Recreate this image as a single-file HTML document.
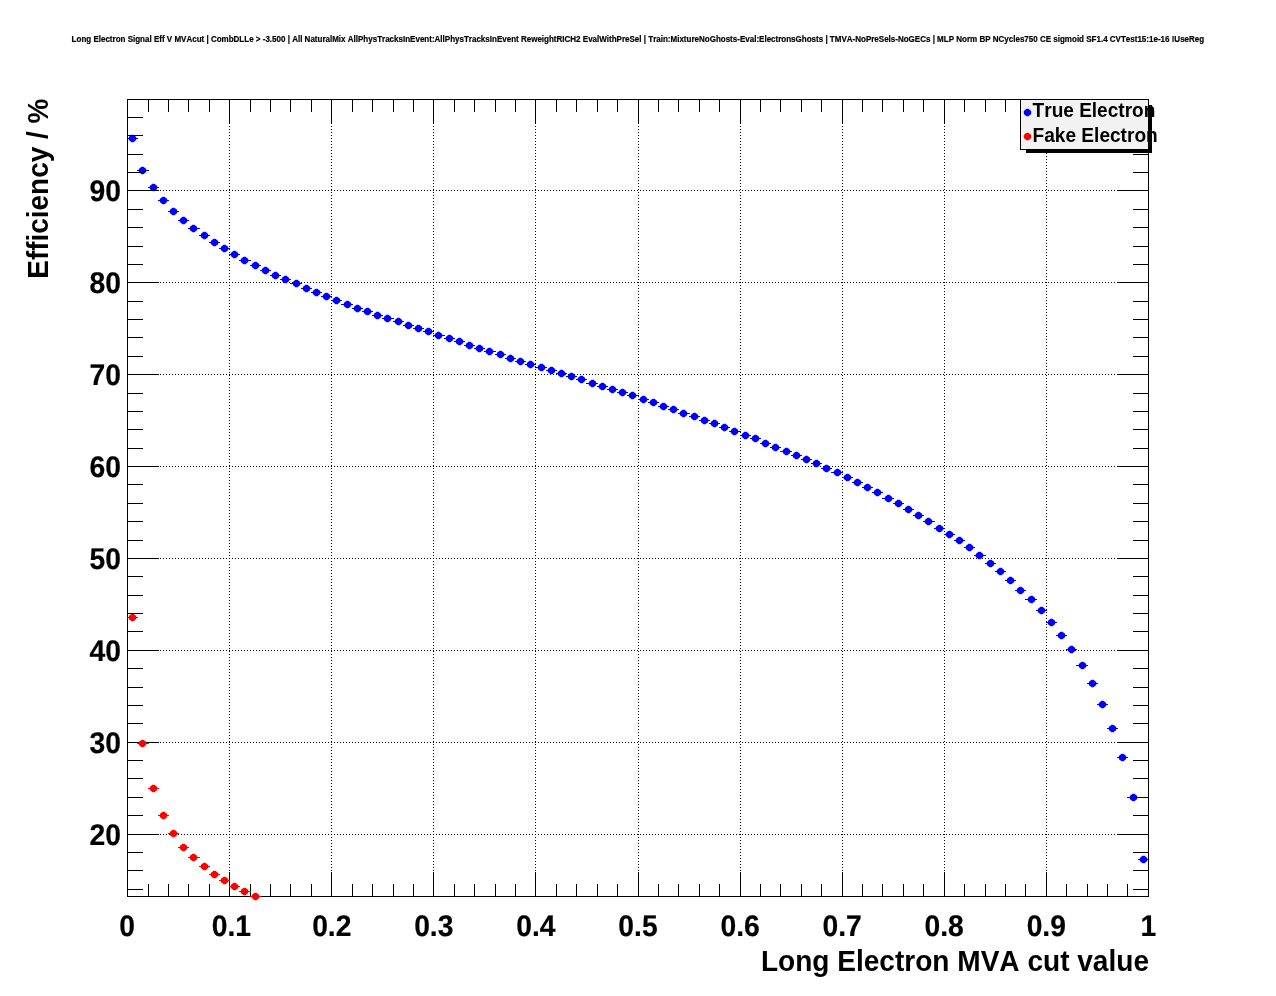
<!DOCTYPE html>
<html><head><meta charset="utf-8"><title>Long Electron Signal Eff V MVAcut</title>
<style>html,body{margin:0;padding:0;background:#fff}body{width:1276px;height:996px;position:relative;overflow:hidden}</style>
</head><body>
<svg width="1276" height="996" viewBox="0 0 1276 996" style="position:absolute;left:0;top:0">
<rect width="100%" height="100%" fill="#fff"/>
<g stroke="#000" stroke-width="1" stroke-dasharray="1 2" shape-rendering="crispEdges" fill="none">
<line x1="229.5" y1="99" x2="229.5" y2="897"/>
<line x1="331.5" y1="99" x2="331.5" y2="897"/>
<line x1="433.5" y1="99" x2="433.5" y2="897"/>
<line x1="535.5" y1="99" x2="535.5" y2="897"/>
<line x1="638.5" y1="99" x2="638.5" y2="897"/>
<line x1="740.5" y1="99" x2="740.5" y2="897"/>
<line x1="842.5" y1="99" x2="842.5" y2="897"/>
<line x1="944.5" y1="99" x2="944.5" y2="897"/>
<line x1="1046.5" y1="99" x2="1046.5" y2="897"/>
<line x1="127" y1="834.5" x2="1149" y2="834.5"/>
<line x1="127" y1="742.5" x2="1149" y2="742.5"/>
<line x1="127" y1="650.5" x2="1149" y2="650.5"/>
<line x1="127" y1="558.5" x2="1149" y2="558.5"/>
<line x1="127" y1="466.5" x2="1149" y2="466.5"/>
<line x1="127" y1="374.5" x2="1149" y2="374.5"/>
<line x1="127" y1="282.5" x2="1149" y2="282.5"/>
<line x1="127" y1="190.5" x2="1149" y2="190.5"/>
</g>
<g stroke="#0000ff" stroke-width="1" shape-rendering="crispEdges">
<line x1="127" y1="138.5" x2="138" y2="138.5"/>
<line x1="137" y1="170.5" x2="149" y2="170.5"/>
<line x1="148" y1="187.5" x2="159" y2="187.5"/>
<line x1="158" y1="200.5" x2="169" y2="200.5"/>
<line x1="168" y1="211.5" x2="179" y2="211.5"/>
<line x1="178" y1="220.5" x2="189" y2="220.5"/>
<line x1="188" y1="228.5" x2="200" y2="228.5"/>
<line x1="199" y1="235.5" x2="210" y2="235.5"/>
<line x1="209" y1="242.5" x2="220" y2="242.5"/>
<line x1="219" y1="248.5" x2="230" y2="248.5"/>
<line x1="229" y1="254.5" x2="240" y2="254.5"/>
<line x1="239" y1="260.5" x2="251" y2="260.5"/>
<line x1="250" y1="265.5" x2="261" y2="265.5"/>
<line x1="260" y1="270.5" x2="271" y2="270.5"/>
<line x1="270" y1="275.5" x2="281" y2="275.5"/>
<line x1="280" y1="279.5" x2="291" y2="279.5"/>
<line x1="290" y1="283.5" x2="302" y2="283.5"/>
<line x1="301" y1="288.5" x2="312" y2="288.5"/>
<line x1="311" y1="292.5" x2="322" y2="292.5"/>
<line x1="321" y1="296.5" x2="332" y2="296.5"/>
<line x1="331" y1="300.5" x2="342" y2="300.5"/>
<line x1="341" y1="304.5" x2="353" y2="304.5"/>
<line x1="352" y1="308.5" x2="363" y2="308.5"/>
<line x1="362" y1="311.5" x2="373" y2="311.5"/>
<line x1="372" y1="315.5" x2="383" y2="315.5"/>
<line x1="382" y1="318.5" x2="394" y2="318.5"/>
<line x1="393" y1="321.5" x2="404" y2="321.5"/>
<line x1="403" y1="325.5" x2="414" y2="325.5"/>
<line x1="413" y1="328.5" x2="424" y2="328.5"/>
<line x1="423" y1="331.5" x2="434" y2="331.5"/>
<line x1="433" y1="335.5" x2="445" y2="335.5"/>
<line x1="444" y1="338.5" x2="455" y2="338.5"/>
<line x1="454" y1="341.5" x2="465" y2="341.5"/>
<line x1="464" y1="345.5" x2="475" y2="345.5"/>
<line x1="474" y1="348.5" x2="485" y2="348.5"/>
<line x1="484" y1="351.5" x2="496" y2="351.5"/>
<line x1="495" y1="354.5" x2="506" y2="354.5"/>
<line x1="505" y1="358.5" x2="516" y2="358.5"/>
<line x1="515" y1="361.5" x2="526" y2="361.5"/>
<line x1="525" y1="364.5" x2="536" y2="364.5"/>
<line x1="535" y1="367.5" x2="547" y2="367.5"/>
<line x1="546" y1="370.5" x2="557" y2="370.5"/>
<line x1="556" y1="373.5" x2="567" y2="373.5"/>
<line x1="566" y1="376.5" x2="577" y2="376.5"/>
<line x1="576" y1="379.5" x2="587" y2="379.5"/>
<line x1="586" y1="383.5" x2="598" y2="383.5"/>
<line x1="597" y1="386.5" x2="608" y2="386.5"/>
<line x1="607" y1="389.5" x2="618" y2="389.5"/>
<line x1="617" y1="392.5" x2="628" y2="392.5"/>
<line x1="627" y1="395.5" x2="639" y2="395.5"/>
<line x1="638" y1="399.5" x2="649" y2="399.5"/>
<line x1="648" y1="402.5" x2="659" y2="402.5"/>
<line x1="658" y1="406.5" x2="669" y2="406.5"/>
<line x1="668" y1="409.5" x2="679" y2="409.5"/>
<line x1="678" y1="413.5" x2="690" y2="413.5"/>
<line x1="689" y1="416.5" x2="700" y2="416.5"/>
<line x1="699" y1="420.5" x2="710" y2="420.5"/>
<line x1="709" y1="423.5" x2="720" y2="423.5"/>
<line x1="719" y1="427.5" x2="730" y2="427.5"/>
<line x1="729" y1="431.5" x2="741" y2="431.5"/>
<line x1="740" y1="435.5" x2="751" y2="435.5"/>
<line x1="750" y1="438.5" x2="761" y2="438.5"/>
<line x1="760" y1="443.5" x2="771" y2="443.5"/>
<line x1="770" y1="447.5" x2="781" y2="447.5"/>
<line x1="780" y1="451.5" x2="792" y2="451.5"/>
<line x1="791" y1="455.5" x2="802" y2="455.5"/>
<line x1="801" y1="459.5" x2="812" y2="459.5"/>
<line x1="811" y1="463.5" x2="822" y2="463.5"/>
<line x1="821" y1="468.5" x2="832" y2="468.5"/>
<line x1="831" y1="472.5" x2="843" y2="472.5"/>
<line x1="842" y1="477.5" x2="853" y2="477.5"/>
<line x1="852" y1="482.5" x2="863" y2="482.5"/>
<line x1="862" y1="487.5" x2="873" y2="487.5"/>
<line x1="872" y1="492.5" x2="883" y2="492.5"/>
<line x1="882" y1="498.5" x2="894" y2="498.5"/>
<line x1="893" y1="503.5" x2="904" y2="503.5"/>
<line x1="903" y1="509.5" x2="914" y2="509.5"/>
<line x1="913" y1="515.5" x2="924" y2="515.5"/>
<line x1="923" y1="521.5" x2="935" y2="521.5"/>
<line x1="934" y1="528.5" x2="945" y2="528.5"/>
<line x1="944" y1="534.5" x2="955" y2="534.5"/>
<line x1="954" y1="540.5" x2="965" y2="540.5"/>
<line x1="964" y1="547.5" x2="975" y2="547.5"/>
<line x1="974" y1="555.5" x2="986" y2="555.5"/>
<line x1="985" y1="563.5" x2="996" y2="563.5"/>
<line x1="995" y1="571.5" x2="1006" y2="571.5"/>
<line x1="1005" y1="580.5" x2="1016" y2="580.5"/>
<line x1="1015" y1="590.5" x2="1026" y2="590.5"/>
<line x1="1025" y1="599.5" x2="1037" y2="599.5"/>
<line x1="1036" y1="610.5" x2="1047" y2="610.5"/>
<line x1="1046" y1="622.5" x2="1057" y2="622.5"/>
<line x1="1056" y1="635.5" x2="1067" y2="635.5"/>
<line x1="1066" y1="649.5" x2="1077" y2="649.5"/>
<line x1="1076" y1="665.5" x2="1088" y2="665.5"/>
<line x1="1087" y1="683.5" x2="1098" y2="683.5"/>
<line x1="1097" y1="704.5" x2="1108" y2="704.5"/>
<line x1="1107" y1="728.5" x2="1118" y2="728.5"/>
<line x1="1117" y1="757.5" x2="1128" y2="757.5"/>
<line x1="1127" y1="797.5" x2="1139" y2="797.5"/>
<line x1="1138" y1="859.5" x2="1149" y2="859.5"/>
</g>
<g fill="#0000ff">
<polygon points="128.8,136.9 131.5,134.8 133.5,134.8 136.2,136.9 136.2,140.1 133.5,142.2 131.5,142.2 128.8,140.1"/>
<polygon points="138.8,168.9 141.5,166.8 143.5,166.8 146.2,168.9 146.2,172.1 143.5,174.2 141.5,174.2 138.8,172.1"/>
<polygon points="149.8,185.9 152.5,183.8 154.5,183.8 157.2,185.9 157.2,189.1 154.5,191.2 152.5,191.2 149.8,189.1"/>
<polygon points="159.8,198.9 162.5,196.8 164.5,196.8 167.2,198.9 167.2,202.1 164.5,204.2 162.5,204.2 159.8,202.1"/>
<polygon points="169.8,209.9 172.5,207.8 174.5,207.8 177.2,209.9 177.2,213.1 174.5,215.2 172.5,215.2 169.8,213.1"/>
<polygon points="179.8,218.9 182.5,216.8 184.5,216.8 187.2,218.9 187.2,222.1 184.5,224.2 182.5,224.2 179.8,222.1"/>
<polygon points="189.8,226.9 192.5,224.8 194.5,224.8 197.2,226.9 197.2,230.1 194.5,232.2 192.5,232.2 189.8,230.1"/>
<polygon points="200.8,233.9 203.5,231.8 205.5,231.8 208.2,233.9 208.2,237.1 205.5,239.2 203.5,239.2 200.8,237.1"/>
<polygon points="210.8,240.9 213.5,238.8 215.5,238.8 218.2,240.9 218.2,244.1 215.5,246.2 213.5,246.2 210.8,244.1"/>
<polygon points="220.8,246.9 223.5,244.8 225.5,244.8 228.2,246.9 228.2,250.1 225.5,252.2 223.5,252.2 220.8,250.1"/>
<polygon points="230.8,252.9 233.5,250.8 235.5,250.8 238.2,252.9 238.2,256.1 235.5,258.2 233.5,258.2 230.8,256.1"/>
<polygon points="240.8,258.9 243.5,256.8 245.5,256.8 248.2,258.9 248.2,262.1 245.5,264.2 243.5,264.2 240.8,262.1"/>
<polygon points="251.8,263.9 254.5,261.8 256.5,261.8 259.2,263.9 259.2,267.1 256.5,269.2 254.5,269.2 251.8,267.1"/>
<polygon points="261.8,268.9 264.5,266.8 266.5,266.8 269.2,268.9 269.2,272.1 266.5,274.2 264.5,274.2 261.8,272.1"/>
<polygon points="271.8,273.9 274.5,271.8 276.5,271.8 279.2,273.9 279.2,277.1 276.5,279.2 274.5,279.2 271.8,277.1"/>
<polygon points="281.8,277.9 284.5,275.8 286.5,275.8 289.2,277.9 289.2,281.1 286.5,283.2 284.5,283.2 281.8,281.1"/>
<polygon points="292.8,281.9 295.5,279.8 297.5,279.8 300.2,281.9 300.2,285.1 297.5,287.2 295.5,287.2 292.8,285.1"/>
<polygon points="302.8,286.9 305.5,284.8 307.5,284.8 310.2,286.9 310.2,290.1 307.5,292.2 305.5,292.2 302.8,290.1"/>
<polygon points="312.8,290.9 315.5,288.8 317.5,288.8 320.2,290.9 320.2,294.1 317.5,296.2 315.5,296.2 312.8,294.1"/>
<polygon points="322.8,294.9 325.5,292.8 327.5,292.8 330.2,294.9 330.2,298.1 327.5,300.2 325.5,300.2 322.8,298.1"/>
<polygon points="332.8,298.9 335.5,296.8 337.5,296.8 340.2,298.9 340.2,302.1 337.5,304.2 335.5,304.2 332.8,302.1"/>
<polygon points="343.8,302.9 346.5,300.8 348.5,300.8 351.2,302.9 351.2,306.1 348.5,308.2 346.5,308.2 343.8,306.1"/>
<polygon points="353.8,306.9 356.5,304.8 358.5,304.8 361.2,306.9 361.2,310.1 358.5,312.2 356.5,312.2 353.8,310.1"/>
<polygon points="363.8,309.9 366.5,307.8 368.5,307.8 371.2,309.9 371.2,313.1 368.5,315.2 366.5,315.2 363.8,313.1"/>
<polygon points="373.8,313.9 376.5,311.8 378.5,311.8 381.2,313.9 381.2,317.1 378.5,319.2 376.5,319.2 373.8,317.1"/>
<polygon points="383.8,316.9 386.5,314.8 388.5,314.8 391.2,316.9 391.2,320.1 388.5,322.2 386.5,322.2 383.8,320.1"/>
<polygon points="394.8,319.9 397.5,317.8 399.5,317.8 402.2,319.9 402.2,323.1 399.5,325.2 397.5,325.2 394.8,323.1"/>
<polygon points="404.8,323.9 407.5,321.8 409.5,321.8 412.2,323.9 412.2,327.1 409.5,329.2 407.5,329.2 404.8,327.1"/>
<polygon points="414.8,326.9 417.5,324.8 419.5,324.8 422.2,326.9 422.2,330.1 419.5,332.2 417.5,332.2 414.8,330.1"/>
<polygon points="424.8,329.9 427.5,327.8 429.5,327.8 432.2,329.9 432.2,333.1 429.5,335.2 427.5,335.2 424.8,333.1"/>
<polygon points="434.8,333.9 437.5,331.8 439.5,331.8 442.2,333.9 442.2,337.1 439.5,339.2 437.5,339.2 434.8,337.1"/>
<polygon points="445.8,336.9 448.5,334.8 450.5,334.8 453.2,336.9 453.2,340.1 450.5,342.2 448.5,342.2 445.8,340.1"/>
<polygon points="455.8,339.9 458.5,337.8 460.5,337.8 463.2,339.9 463.2,343.1 460.5,345.2 458.5,345.2 455.8,343.1"/>
<polygon points="465.8,343.9 468.5,341.8 470.5,341.8 473.2,343.9 473.2,347.1 470.5,349.2 468.5,349.2 465.8,347.1"/>
<polygon points="475.8,346.9 478.5,344.8 480.5,344.8 483.2,346.9 483.2,350.1 480.5,352.2 478.5,352.2 475.8,350.1"/>
<polygon points="485.8,349.9 488.5,347.8 490.5,347.8 493.2,349.9 493.2,353.1 490.5,355.2 488.5,355.2 485.8,353.1"/>
<polygon points="496.8,352.9 499.5,350.8 501.5,350.8 504.2,352.9 504.2,356.1 501.5,358.2 499.5,358.2 496.8,356.1"/>
<polygon points="506.8,356.9 509.5,354.8 511.5,354.8 514.2,356.9 514.2,360.1 511.5,362.2 509.5,362.2 506.8,360.1"/>
<polygon points="516.8,359.9 519.5,357.8 521.5,357.8 524.2,359.9 524.2,363.1 521.5,365.2 519.5,365.2 516.8,363.1"/>
<polygon points="526.8,362.9 529.5,360.8 531.5,360.8 534.2,362.9 534.2,366.1 531.5,368.2 529.5,368.2 526.8,366.1"/>
<polygon points="537.8,365.9 540.5,363.8 542.5,363.8 545.2,365.9 545.2,369.1 542.5,371.2 540.5,371.2 537.8,369.1"/>
<polygon points="547.8,368.9 550.5,366.8 552.5,366.8 555.2,368.9 555.2,372.1 552.5,374.2 550.5,374.2 547.8,372.1"/>
<polygon points="557.8,371.9 560.5,369.8 562.5,369.8 565.2,371.9 565.2,375.1 562.5,377.2 560.5,377.2 557.8,375.1"/>
<polygon points="567.8,374.9 570.5,372.8 572.5,372.8 575.2,374.9 575.2,378.1 572.5,380.2 570.5,380.2 567.8,378.1"/>
<polygon points="577.8,377.9 580.5,375.8 582.5,375.8 585.2,377.9 585.2,381.1 582.5,383.2 580.5,383.2 577.8,381.1"/>
<polygon points="588.8,381.9 591.5,379.8 593.5,379.8 596.2,381.9 596.2,385.1 593.5,387.2 591.5,387.2 588.8,385.1"/>
<polygon points="598.8,384.9 601.5,382.8 603.5,382.8 606.2,384.9 606.2,388.1 603.5,390.2 601.5,390.2 598.8,388.1"/>
<polygon points="608.8,387.9 611.5,385.8 613.5,385.8 616.2,387.9 616.2,391.1 613.5,393.2 611.5,393.2 608.8,391.1"/>
<polygon points="618.8,390.9 621.5,388.8 623.5,388.8 626.2,390.9 626.2,394.1 623.5,396.2 621.5,396.2 618.8,394.1"/>
<polygon points="628.8,393.9 631.5,391.8 633.5,391.8 636.2,393.9 636.2,397.1 633.5,399.2 631.5,399.2 628.8,397.1"/>
<polygon points="639.8,397.9 642.5,395.8 644.5,395.8 647.2,397.9 647.2,401.1 644.5,403.2 642.5,403.2 639.8,401.1"/>
<polygon points="649.8,400.9 652.5,398.8 654.5,398.8 657.2,400.9 657.2,404.1 654.5,406.2 652.5,406.2 649.8,404.1"/>
<polygon points="659.8,404.9 662.5,402.8 664.5,402.8 667.2,404.9 667.2,408.1 664.5,410.2 662.5,410.2 659.8,408.1"/>
<polygon points="669.8,407.9 672.5,405.8 674.5,405.8 677.2,407.9 677.2,411.1 674.5,413.2 672.5,413.2 669.8,411.1"/>
<polygon points="679.8,411.9 682.5,409.8 684.5,409.8 687.2,411.9 687.2,415.1 684.5,417.2 682.5,417.2 679.8,415.1"/>
<polygon points="690.8,414.9 693.5,412.8 695.5,412.8 698.2,414.9 698.2,418.1 695.5,420.2 693.5,420.2 690.8,418.1"/>
<polygon points="700.8,418.9 703.5,416.8 705.5,416.8 708.2,418.9 708.2,422.1 705.5,424.2 703.5,424.2 700.8,422.1"/>
<polygon points="710.8,421.9 713.5,419.8 715.5,419.8 718.2,421.9 718.2,425.1 715.5,427.2 713.5,427.2 710.8,425.1"/>
<polygon points="720.8,425.9 723.5,423.8 725.5,423.8 728.2,425.9 728.2,429.1 725.5,431.2 723.5,431.2 720.8,429.1"/>
<polygon points="730.8,429.9 733.5,427.8 735.5,427.8 738.2,429.9 738.2,433.1 735.5,435.2 733.5,435.2 730.8,433.1"/>
<polygon points="741.8,433.9 744.5,431.8 746.5,431.8 749.2,433.9 749.2,437.1 746.5,439.2 744.5,439.2 741.8,437.1"/>
<polygon points="751.8,436.9 754.5,434.8 756.5,434.8 759.2,436.9 759.2,440.1 756.5,442.2 754.5,442.2 751.8,440.1"/>
<polygon points="761.8,441.9 764.5,439.8 766.5,439.8 769.2,441.9 769.2,445.1 766.5,447.2 764.5,447.2 761.8,445.1"/>
<polygon points="771.8,445.9 774.5,443.8 776.5,443.8 779.2,445.9 779.2,449.1 776.5,451.2 774.5,451.2 771.8,449.1"/>
<polygon points="782.8,449.9 785.5,447.8 787.5,447.8 790.2,449.9 790.2,453.1 787.5,455.2 785.5,455.2 782.8,453.1"/>
<polygon points="792.8,453.9 795.5,451.8 797.5,451.8 800.2,453.9 800.2,457.1 797.5,459.2 795.5,459.2 792.8,457.1"/>
<polygon points="802.8,457.9 805.5,455.8 807.5,455.8 810.2,457.9 810.2,461.1 807.5,463.2 805.5,463.2 802.8,461.1"/>
<polygon points="812.8,461.9 815.5,459.8 817.5,459.8 820.2,461.9 820.2,465.1 817.5,467.2 815.5,467.2 812.8,465.1"/>
<polygon points="822.8,466.9 825.5,464.8 827.5,464.8 830.2,466.9 830.2,470.1 827.5,472.2 825.5,472.2 822.8,470.1"/>
<polygon points="833.8,470.9 836.5,468.8 838.5,468.8 841.2,470.9 841.2,474.1 838.5,476.2 836.5,476.2 833.8,474.1"/>
<polygon points="843.8,475.9 846.5,473.8 848.5,473.8 851.2,475.9 851.2,479.1 848.5,481.2 846.5,481.2 843.8,479.1"/>
<polygon points="853.8,480.9 856.5,478.8 858.5,478.8 861.2,480.9 861.2,484.1 858.5,486.2 856.5,486.2 853.8,484.1"/>
<polygon points="863.8,485.9 866.5,483.8 868.5,483.8 871.2,485.9 871.2,489.1 868.5,491.2 866.5,491.2 863.8,489.1"/>
<polygon points="873.8,490.9 876.5,488.8 878.5,488.8 881.2,490.9 881.2,494.1 878.5,496.2 876.5,496.2 873.8,494.1"/>
<polygon points="884.8,496.9 887.5,494.8 889.5,494.8 892.2,496.9 892.2,500.1 889.5,502.2 887.5,502.2 884.8,500.1"/>
<polygon points="894.8,501.9 897.5,499.8 899.5,499.8 902.2,501.9 902.2,505.1 899.5,507.2 897.5,507.2 894.8,505.1"/>
<polygon points="904.8,507.9 907.5,505.8 909.5,505.8 912.2,507.9 912.2,511.1 909.5,513.2 907.5,513.2 904.8,511.1"/>
<polygon points="914.8,513.9 917.5,511.8 919.5,511.8 922.2,513.9 922.2,517.1 919.5,519.2 917.5,519.2 914.8,517.1"/>
<polygon points="924.8,519.9 927.5,517.8 929.5,517.8 932.2,519.9 932.2,523.1 929.5,525.2 927.5,525.2 924.8,523.1"/>
<polygon points="935.8,526.9 938.5,524.8 940.5,524.8 943.2,526.9 943.2,530.1 940.5,532.2 938.5,532.2 935.8,530.1"/>
<polygon points="945.8,532.9 948.5,530.8 950.5,530.8 953.2,532.9 953.2,536.1 950.5,538.2 948.5,538.2 945.8,536.1"/>
<polygon points="955.8,538.9 958.5,536.8 960.5,536.8 963.2,538.9 963.2,542.1 960.5,544.2 958.5,544.2 955.8,542.1"/>
<polygon points="965.8,545.9 968.5,543.8 970.5,543.8 973.2,545.9 973.2,549.1 970.5,551.2 968.5,551.2 965.8,549.1"/>
<polygon points="975.8,553.9 978.5,551.8 980.5,551.8 983.2,553.9 983.2,557.1 980.5,559.2 978.5,559.2 975.8,557.1"/>
<polygon points="986.8,561.9 989.5,559.8 991.5,559.8 994.2,561.9 994.2,565.1 991.5,567.2 989.5,567.2 986.8,565.1"/>
<polygon points="996.8,569.9 999.5,567.8 1001.5,567.8 1004.2,569.9 1004.2,573.1 1001.5,575.2 999.5,575.2 996.8,573.1"/>
<polygon points="1006.8,578.9 1009.5,576.8 1011.5,576.8 1014.2,578.9 1014.2,582.1 1011.5,584.2 1009.5,584.2 1006.8,582.1"/>
<polygon points="1016.8,588.9 1019.5,586.8 1021.5,586.8 1024.2,588.9 1024.2,592.1 1021.5,594.2 1019.5,594.2 1016.8,592.1"/>
<polygon points="1027.8,597.9 1030.5,595.8 1032.5,595.8 1035.2,597.9 1035.2,601.1 1032.5,603.2 1030.5,603.2 1027.8,601.1"/>
<polygon points="1037.8,608.9 1040.5,606.8 1042.5,606.8 1045.2,608.9 1045.2,612.1 1042.5,614.2 1040.5,614.2 1037.8,612.1"/>
<polygon points="1047.8,620.9 1050.5,618.8 1052.5,618.8 1055.2,620.9 1055.2,624.1 1052.5,626.2 1050.5,626.2 1047.8,624.1"/>
<polygon points="1057.8,633.9 1060.5,631.8 1062.5,631.8 1065.2,633.9 1065.2,637.1 1062.5,639.2 1060.5,639.2 1057.8,637.1"/>
<polygon points="1067.8,647.9 1070.5,645.8 1072.5,645.8 1075.2,647.9 1075.2,651.1 1072.5,653.2 1070.5,653.2 1067.8,651.1"/>
<polygon points="1078.8,663.9 1081.5,661.8 1083.5,661.8 1086.2,663.9 1086.2,667.1 1083.5,669.2 1081.5,669.2 1078.8,667.1"/>
<polygon points="1088.8,681.9 1091.5,679.8 1093.5,679.8 1096.2,681.9 1096.2,685.1 1093.5,687.2 1091.5,687.2 1088.8,685.1"/>
<polygon points="1098.8,702.9 1101.5,700.8 1103.5,700.8 1106.2,702.9 1106.2,706.1 1103.5,708.2 1101.5,708.2 1098.8,706.1"/>
<polygon points="1108.8,726.9 1111.5,724.8 1113.5,724.8 1116.2,726.9 1116.2,730.1 1113.5,732.2 1111.5,732.2 1108.8,730.1"/>
<polygon points="1118.8,755.9 1121.5,753.8 1123.5,753.8 1126.2,755.9 1126.2,759.1 1123.5,761.2 1121.5,761.2 1118.8,759.1"/>
<polygon points="1129.8,795.9 1132.5,793.8 1134.5,793.8 1137.2,795.9 1137.2,799.1 1134.5,801.2 1132.5,801.2 1129.8,799.1"/>
<polygon points="1139.8,857.9 1142.5,855.8 1144.5,855.8 1147.2,857.9 1147.2,861.1 1144.5,863.2 1142.5,863.2 1139.8,861.1"/>
</g>
<g stroke="#000" stroke-width="1" shape-rendering="crispEdges" fill="none">
<rect x="127.5" y="99.5" width="1021" height="797"/>
<line x1="148.5" y1="897" x2="148.5" y2="884"/>
<line x1="148.5" y1="99" x2="148.5" y2="112"/>
<line x1="168.5" y1="897" x2="168.5" y2="884"/>
<line x1="168.5" y1="99" x2="168.5" y2="112"/>
<line x1="188.5" y1="897" x2="188.5" y2="884"/>
<line x1="188.5" y1="99" x2="188.5" y2="112"/>
<line x1="209.5" y1="897" x2="209.5" y2="884"/>
<line x1="209.5" y1="99" x2="209.5" y2="112"/>
<line x1="229.5" y1="897" x2="229.5" y2="872"/>
<line x1="229.5" y1="99" x2="229.5" y2="124"/>
<line x1="250.5" y1="897" x2="250.5" y2="884"/>
<line x1="250.5" y1="99" x2="250.5" y2="112"/>
<line x1="270.5" y1="897" x2="270.5" y2="884"/>
<line x1="270.5" y1="99" x2="270.5" y2="112"/>
<line x1="290.5" y1="897" x2="290.5" y2="884"/>
<line x1="290.5" y1="99" x2="290.5" y2="112"/>
<line x1="311.5" y1="897" x2="311.5" y2="884"/>
<line x1="311.5" y1="99" x2="311.5" y2="112"/>
<line x1="331.5" y1="897" x2="331.5" y2="872"/>
<line x1="331.5" y1="99" x2="331.5" y2="124"/>
<line x1="352.5" y1="897" x2="352.5" y2="884"/>
<line x1="352.5" y1="99" x2="352.5" y2="112"/>
<line x1="372.5" y1="897" x2="372.5" y2="884"/>
<line x1="372.5" y1="99" x2="372.5" y2="112"/>
<line x1="393.5" y1="897" x2="393.5" y2="884"/>
<line x1="393.5" y1="99" x2="393.5" y2="112"/>
<line x1="413.5" y1="897" x2="413.5" y2="884"/>
<line x1="413.5" y1="99" x2="413.5" y2="112"/>
<line x1="433.5" y1="897" x2="433.5" y2="872"/>
<line x1="433.5" y1="99" x2="433.5" y2="124"/>
<line x1="454.5" y1="897" x2="454.5" y2="884"/>
<line x1="454.5" y1="99" x2="454.5" y2="112"/>
<line x1="474.5" y1="897" x2="474.5" y2="884"/>
<line x1="474.5" y1="99" x2="474.5" y2="112"/>
<line x1="495.5" y1="897" x2="495.5" y2="884"/>
<line x1="495.5" y1="99" x2="495.5" y2="112"/>
<line x1="515.5" y1="897" x2="515.5" y2="884"/>
<line x1="515.5" y1="99" x2="515.5" y2="112"/>
<line x1="535.5" y1="897" x2="535.5" y2="872"/>
<line x1="535.5" y1="99" x2="535.5" y2="124"/>
<line x1="556.5" y1="897" x2="556.5" y2="884"/>
<line x1="556.5" y1="99" x2="556.5" y2="112"/>
<line x1="576.5" y1="897" x2="576.5" y2="884"/>
<line x1="576.5" y1="99" x2="576.5" y2="112"/>
<line x1="597.5" y1="897" x2="597.5" y2="884"/>
<line x1="597.5" y1="99" x2="597.5" y2="112"/>
<line x1="617.5" y1="897" x2="617.5" y2="884"/>
<line x1="617.5" y1="99" x2="617.5" y2="112"/>
<line x1="638.5" y1="897" x2="638.5" y2="872"/>
<line x1="638.5" y1="99" x2="638.5" y2="124"/>
<line x1="658.5" y1="897" x2="658.5" y2="884"/>
<line x1="658.5" y1="99" x2="658.5" y2="112"/>
<line x1="678.5" y1="897" x2="678.5" y2="884"/>
<line x1="678.5" y1="99" x2="678.5" y2="112"/>
<line x1="699.5" y1="897" x2="699.5" y2="884"/>
<line x1="699.5" y1="99" x2="699.5" y2="112"/>
<line x1="719.5" y1="897" x2="719.5" y2="884"/>
<line x1="719.5" y1="99" x2="719.5" y2="112"/>
<line x1="740.5" y1="897" x2="740.5" y2="872"/>
<line x1="740.5" y1="99" x2="740.5" y2="124"/>
<line x1="760.5" y1="897" x2="760.5" y2="884"/>
<line x1="760.5" y1="99" x2="760.5" y2="112"/>
<line x1="780.5" y1="897" x2="780.5" y2="884"/>
<line x1="780.5" y1="99" x2="780.5" y2="112"/>
<line x1="801.5" y1="897" x2="801.5" y2="884"/>
<line x1="801.5" y1="99" x2="801.5" y2="112"/>
<line x1="821.5" y1="897" x2="821.5" y2="884"/>
<line x1="821.5" y1="99" x2="821.5" y2="112"/>
<line x1="842.5" y1="897" x2="842.5" y2="872"/>
<line x1="842.5" y1="99" x2="842.5" y2="124"/>
<line x1="862.5" y1="897" x2="862.5" y2="884"/>
<line x1="862.5" y1="99" x2="862.5" y2="112"/>
<line x1="882.5" y1="897" x2="882.5" y2="884"/>
<line x1="882.5" y1="99" x2="882.5" y2="112"/>
<line x1="903.5" y1="897" x2="903.5" y2="884"/>
<line x1="903.5" y1="99" x2="903.5" y2="112"/>
<line x1="923.5" y1="897" x2="923.5" y2="884"/>
<line x1="923.5" y1="99" x2="923.5" y2="112"/>
<line x1="944.5" y1="897" x2="944.5" y2="872"/>
<line x1="944.5" y1="99" x2="944.5" y2="124"/>
<line x1="964.5" y1="897" x2="964.5" y2="884"/>
<line x1="964.5" y1="99" x2="964.5" y2="112"/>
<line x1="985.5" y1="897" x2="985.5" y2="884"/>
<line x1="985.5" y1="99" x2="985.5" y2="112"/>
<line x1="1005.5" y1="897" x2="1005.5" y2="884"/>
<line x1="1005.5" y1="99" x2="1005.5" y2="112"/>
<line x1="1025.5" y1="897" x2="1025.5" y2="884"/>
<line x1="1025.5" y1="99" x2="1025.5" y2="112"/>
<line x1="1046.5" y1="897" x2="1046.5" y2="872"/>
<line x1="1046.5" y1="99" x2="1046.5" y2="124"/>
<line x1="1066.5" y1="897" x2="1066.5" y2="884"/>
<line x1="1066.5" y1="99" x2="1066.5" y2="112"/>
<line x1="1087.5" y1="897" x2="1087.5" y2="884"/>
<line x1="1087.5" y1="99" x2="1087.5" y2="112"/>
<line x1="1107.5" y1="897" x2="1107.5" y2="884"/>
<line x1="1107.5" y1="99" x2="1107.5" y2="112"/>
<line x1="1127.5" y1="897" x2="1127.5" y2="884"/>
<line x1="1127.5" y1="99" x2="1127.5" y2="112"/>
<line x1="127" y1="889.5" x2="143" y2="889.5"/>
<line x1="1149" y1="889.5" x2="1133" y2="889.5"/>
<line x1="127" y1="870.5" x2="143" y2="870.5"/>
<line x1="1149" y1="870.5" x2="1133" y2="870.5"/>
<line x1="127" y1="852.5" x2="143" y2="852.5"/>
<line x1="1149" y1="852.5" x2="1133" y2="852.5"/>
<line x1="127" y1="834.5" x2="159" y2="834.5"/>
<line x1="1149" y1="834.5" x2="1117" y2="834.5"/>
<line x1="127" y1="815.5" x2="143" y2="815.5"/>
<line x1="1149" y1="815.5" x2="1133" y2="815.5"/>
<line x1="127" y1="797.5" x2="143" y2="797.5"/>
<line x1="1149" y1="797.5" x2="1133" y2="797.5"/>
<line x1="127" y1="778.5" x2="143" y2="778.5"/>
<line x1="1149" y1="778.5" x2="1133" y2="778.5"/>
<line x1="127" y1="760.5" x2="143" y2="760.5"/>
<line x1="1149" y1="760.5" x2="1133" y2="760.5"/>
<line x1="127" y1="742.5" x2="159" y2="742.5"/>
<line x1="1149" y1="742.5" x2="1117" y2="742.5"/>
<line x1="127" y1="723.5" x2="143" y2="723.5"/>
<line x1="1149" y1="723.5" x2="1133" y2="723.5"/>
<line x1="127" y1="705.5" x2="143" y2="705.5"/>
<line x1="1149" y1="705.5" x2="1133" y2="705.5"/>
<line x1="127" y1="687.5" x2="143" y2="687.5"/>
<line x1="1149" y1="687.5" x2="1133" y2="687.5"/>
<line x1="127" y1="668.5" x2="143" y2="668.5"/>
<line x1="1149" y1="668.5" x2="1133" y2="668.5"/>
<line x1="127" y1="650.5" x2="159" y2="650.5"/>
<line x1="1149" y1="650.5" x2="1117" y2="650.5"/>
<line x1="127" y1="631.5" x2="143" y2="631.5"/>
<line x1="1149" y1="631.5" x2="1133" y2="631.5"/>
<line x1="127" y1="613.5" x2="143" y2="613.5"/>
<line x1="1149" y1="613.5" x2="1133" y2="613.5"/>
<line x1="127" y1="595.5" x2="143" y2="595.5"/>
<line x1="1149" y1="595.5" x2="1133" y2="595.5"/>
<line x1="127" y1="576.5" x2="143" y2="576.5"/>
<line x1="1149" y1="576.5" x2="1133" y2="576.5"/>
<line x1="127" y1="558.5" x2="159" y2="558.5"/>
<line x1="1149" y1="558.5" x2="1117" y2="558.5"/>
<line x1="127" y1="540.5" x2="143" y2="540.5"/>
<line x1="1149" y1="540.5" x2="1133" y2="540.5"/>
<line x1="127" y1="521.5" x2="143" y2="521.5"/>
<line x1="1149" y1="521.5" x2="1133" y2="521.5"/>
<line x1="127" y1="503.5" x2="143" y2="503.5"/>
<line x1="1149" y1="503.5" x2="1133" y2="503.5"/>
<line x1="127" y1="484.5" x2="143" y2="484.5"/>
<line x1="1149" y1="484.5" x2="1133" y2="484.5"/>
<line x1="127" y1="466.5" x2="159" y2="466.5"/>
<line x1="1149" y1="466.5" x2="1117" y2="466.5"/>
<line x1="127" y1="448.5" x2="143" y2="448.5"/>
<line x1="1149" y1="448.5" x2="1133" y2="448.5"/>
<line x1="127" y1="429.5" x2="143" y2="429.5"/>
<line x1="1149" y1="429.5" x2="1133" y2="429.5"/>
<line x1="127" y1="411.5" x2="143" y2="411.5"/>
<line x1="1149" y1="411.5" x2="1133" y2="411.5"/>
<line x1="127" y1="393.5" x2="143" y2="393.5"/>
<line x1="1149" y1="393.5" x2="1133" y2="393.5"/>
<line x1="127" y1="374.5" x2="159" y2="374.5"/>
<line x1="1149" y1="374.5" x2="1117" y2="374.5"/>
<line x1="127" y1="356.5" x2="143" y2="356.5"/>
<line x1="1149" y1="356.5" x2="1133" y2="356.5"/>
<line x1="127" y1="337.5" x2="143" y2="337.5"/>
<line x1="1149" y1="337.5" x2="1133" y2="337.5"/>
<line x1="127" y1="319.5" x2="143" y2="319.5"/>
<line x1="1149" y1="319.5" x2="1133" y2="319.5"/>
<line x1="127" y1="301.5" x2="143" y2="301.5"/>
<line x1="1149" y1="301.5" x2="1133" y2="301.5"/>
<line x1="127" y1="282.5" x2="159" y2="282.5"/>
<line x1="1149" y1="282.5" x2="1117" y2="282.5"/>
<line x1="127" y1="264.5" x2="143" y2="264.5"/>
<line x1="1149" y1="264.5" x2="1133" y2="264.5"/>
<line x1="127" y1="246.5" x2="143" y2="246.5"/>
<line x1="1149" y1="246.5" x2="1133" y2="246.5"/>
<line x1="127" y1="227.5" x2="143" y2="227.5"/>
<line x1="1149" y1="227.5" x2="1133" y2="227.5"/>
<line x1="127" y1="209.5" x2="143" y2="209.5"/>
<line x1="1149" y1="209.5" x2="1133" y2="209.5"/>
<line x1="127" y1="190.5" x2="159" y2="190.5"/>
<line x1="1149" y1="190.5" x2="1117" y2="190.5"/>
<line x1="127" y1="172.5" x2="143" y2="172.5"/>
<line x1="1149" y1="172.5" x2="1133" y2="172.5"/>
<line x1="127" y1="154.5" x2="143" y2="154.5"/>
<line x1="1149" y1="154.5" x2="1133" y2="154.5"/>
<line x1="127" y1="135.5" x2="143" y2="135.5"/>
<line x1="1149" y1="135.5" x2="1133" y2="135.5"/>
<line x1="127" y1="117.5" x2="143" y2="117.5"/>
<line x1="1149" y1="117.5" x2="1133" y2="117.5"/>
</g>
<g stroke="#ff0000" stroke-width="1" shape-rendering="crispEdges">
<line x1="127" y1="617.5" x2="138" y2="617.5"/>
<line x1="137" y1="743.5" x2="149" y2="743.5"/>
<line x1="148" y1="788.5" x2="159" y2="788.5"/>
<line x1="158" y1="815.5" x2="169" y2="815.5"/>
<line x1="168" y1="833.5" x2="179" y2="833.5"/>
<line x1="178" y1="847.5" x2="189" y2="847.5"/>
<line x1="188" y1="857.5" x2="200" y2="857.5"/>
<line x1="199" y1="866.5" x2="210" y2="866.5"/>
<line x1="209" y1="874.5" x2="220" y2="874.5"/>
<line x1="219" y1="880.5" x2="230" y2="880.5"/>
<line x1="229" y1="886.5" x2="240" y2="886.5"/>
<line x1="239" y1="891.5" x2="251" y2="891.5"/>
<line x1="250" y1="896.5" x2="261" y2="896.5"/>
</g>
<g fill="#ff0000">
<polygon points="128.8,615.9 131.5,613.8 133.5,613.8 136.2,615.9 136.2,619.1 133.5,621.2 131.5,621.2 128.8,619.1"/>
<polygon points="138.8,741.9 141.5,739.8 143.5,739.8 146.2,741.9 146.2,745.1 143.5,747.2 141.5,747.2 138.8,745.1"/>
<polygon points="149.8,786.9 152.5,784.8 154.5,784.8 157.2,786.9 157.2,790.1 154.5,792.2 152.5,792.2 149.8,790.1"/>
<polygon points="159.8,813.9 162.5,811.8 164.5,811.8 167.2,813.9 167.2,817.1 164.5,819.2 162.5,819.2 159.8,817.1"/>
<polygon points="169.8,831.9 172.5,829.8 174.5,829.8 177.2,831.9 177.2,835.1 174.5,837.2 172.5,837.2 169.8,835.1"/>
<polygon points="179.8,845.9 182.5,843.8 184.5,843.8 187.2,845.9 187.2,849.1 184.5,851.2 182.5,851.2 179.8,849.1"/>
<polygon points="189.8,855.9 192.5,853.8 194.5,853.8 197.2,855.9 197.2,859.1 194.5,861.2 192.5,861.2 189.8,859.1"/>
<polygon points="200.8,864.9 203.5,862.8 205.5,862.8 208.2,864.9 208.2,868.1 205.5,870.2 203.5,870.2 200.8,868.1"/>
<polygon points="210.8,872.9 213.5,870.8 215.5,870.8 218.2,872.9 218.2,876.1 215.5,878.2 213.5,878.2 210.8,876.1"/>
<polygon points="220.8,878.9 223.5,876.8 225.5,876.8 228.2,878.9 228.2,882.1 225.5,884.2 223.5,884.2 220.8,882.1"/>
<polygon points="230.8,884.9 233.5,882.8 235.5,882.8 238.2,884.9 238.2,888.1 235.5,890.2 233.5,890.2 230.8,888.1"/>
<polygon points="240.8,889.9 243.5,887.8 245.5,887.8 248.2,889.9 248.2,893.1 245.5,895.2 243.5,895.2 240.8,893.1"/>
<polygon points="251.8,894.9 254.5,892.8 256.5,892.8 259.2,894.9 259.2,898.1 256.5,900.2 254.5,900.2 251.8,898.1"/>
</g>
<g shape-rendering="crispEdges">
<rect x="1026" y="105" width="126" height="48" fill="#000"/>
<rect x="1020.5" y="99.5" width="128" height="50" fill="#f2f2f2" stroke="#000" stroke-width="1"/>
</g>
<g fill="#0000ff"><polygon points="1023.8,110.9 1026.5,108.8 1028.5,108.8 1031.2,110.9 1031.2,114.1 1028.5,116.2 1026.5,116.2 1023.8,114.1"/></g>
<g fill="#ff0000"><polygon points="1023.8,134.9 1026.5,132.8 1028.5,132.8 1031.2,134.9 1031.2,138.1 1028.5,140.2 1026.5,140.2 1023.8,138.1"/></g>
<g font-family="'Liberation Sans', sans-serif" font-weight="bold" fill="#000" style="font-kerning:none">
<text x="1032.6" y="117" font-size="20" textLength="122.7" lengthAdjust="spacingAndGlyphs">True Electron</text>
<text x="1032.6" y="141.7" font-size="20" textLength="125.1" lengthAdjust="spacingAndGlyphs">Fake Electron</text>
<text x="71.6" y="42" font-size="8.45" stroke="#000" stroke-width="0.2" textLength="1132.6" lengthAdjust="spacingAndGlyphs">Long Electron Signal Eff V MVAcut | CombDLLe &gt; -3.500 | All NaturalMix AllPhysTracksInEvent:AllPhysTracksInEvent ReweightRICH2 EvalWithPreSel | Train:MixtureNoGhosts-Eval:ElectronsGhosts | TMVA-NoPreSels-NoGECs | MLP Norm BP NCycles750 CE sigmoid SF1.4 CVTest15:1e-16 !UseReg</text>
<text transform="translate(127.1,935.55) scale(0.946,1)" font-size="29.9" stroke="#000" stroke-width="0.2" text-rendering="geometricPrecision" text-anchor="middle">0</text>
<text transform="translate(231.4,935.55) scale(0.946,1)" font-size="29.9" stroke="#000" stroke-width="0.2" text-rendering="geometricPrecision" text-anchor="middle">0.1</text>
<text transform="translate(331.8,935.55) scale(0.946,1)" font-size="29.9" stroke="#000" stroke-width="0.2" text-rendering="geometricPrecision" text-anchor="middle">0.2</text>
<text transform="translate(433.8,935.55) scale(0.946,1)" font-size="29.9" stroke="#000" stroke-width="0.2" text-rendering="geometricPrecision" text-anchor="middle">0.3</text>
<text transform="translate(535.9,935.55) scale(0.946,1)" font-size="29.9" stroke="#000" stroke-width="0.2" text-rendering="geometricPrecision" text-anchor="middle">0.4</text>
<text transform="translate(638.0,935.55) scale(0.946,1)" font-size="29.9" stroke="#000" stroke-width="0.2" text-rendering="geometricPrecision" text-anchor="middle">0.5</text>
<text transform="translate(740.1,935.55) scale(0.946,1)" font-size="29.9" stroke="#000" stroke-width="0.2" text-rendering="geometricPrecision" text-anchor="middle">0.6</text>
<text transform="translate(842.2,935.55) scale(0.946,1)" font-size="29.9" stroke="#000" stroke-width="0.2" text-rendering="geometricPrecision" text-anchor="middle">0.7</text>
<text transform="translate(944.2,935.55) scale(0.946,1)" font-size="29.9" stroke="#000" stroke-width="0.2" text-rendering="geometricPrecision" text-anchor="middle">0.8</text>
<text transform="translate(1046.3,935.55) scale(0.946,1)" font-size="29.9" stroke="#000" stroke-width="0.2" text-rendering="geometricPrecision" text-anchor="middle">0.9</text>
<text transform="translate(1148.4,935.55) scale(0.946,1)" font-size="29.9" stroke="#000" stroke-width="0.2" text-rendering="geometricPrecision" text-anchor="middle">1</text>
<text transform="translate(120.9,845.00) scale(0.946,1)" font-size="29.9" stroke="#000" stroke-width="0.2" text-rendering="geometricPrecision" text-anchor="end">20</text>
<text transform="translate(120.9,753.00) scale(0.946,1)" font-size="29.9" stroke="#000" stroke-width="0.2" text-rendering="geometricPrecision" text-anchor="end">30</text>
<text transform="translate(120.9,661.00) scale(0.946,1)" font-size="29.9" stroke="#000" stroke-width="0.2" text-rendering="geometricPrecision" text-anchor="end">40</text>
<text transform="translate(120.9,569.00) scale(0.946,1)" font-size="29.9" stroke="#000" stroke-width="0.2" text-rendering="geometricPrecision" text-anchor="end">50</text>
<text transform="translate(120.9,477.00) scale(0.946,1)" font-size="29.9" stroke="#000" stroke-width="0.2" text-rendering="geometricPrecision" text-anchor="end">60</text>
<text transform="translate(120.9,385.00) scale(0.946,1)" font-size="29.9" stroke="#000" stroke-width="0.2" text-rendering="geometricPrecision" text-anchor="end">70</text>
<text transform="translate(120.9,293.00) scale(0.946,1)" font-size="29.9" stroke="#000" stroke-width="0.2" text-rendering="geometricPrecision" text-anchor="end">80</text>
<text transform="translate(120.9,201.00) scale(0.946,1)" font-size="29.9" stroke="#000" stroke-width="0.2" text-rendering="geometricPrecision" text-anchor="end">90</text>
<text transform="translate(1149,970.7) scale(0.948,1)" font-size="29.6" text-anchor="end">Long Electron MVA cut value</text>
<text transform="translate(48,278.7) rotate(-90) scale(0.919,1)" font-size="30.4">Efficiency / %</text>
</g>
</svg>
</body></html>
